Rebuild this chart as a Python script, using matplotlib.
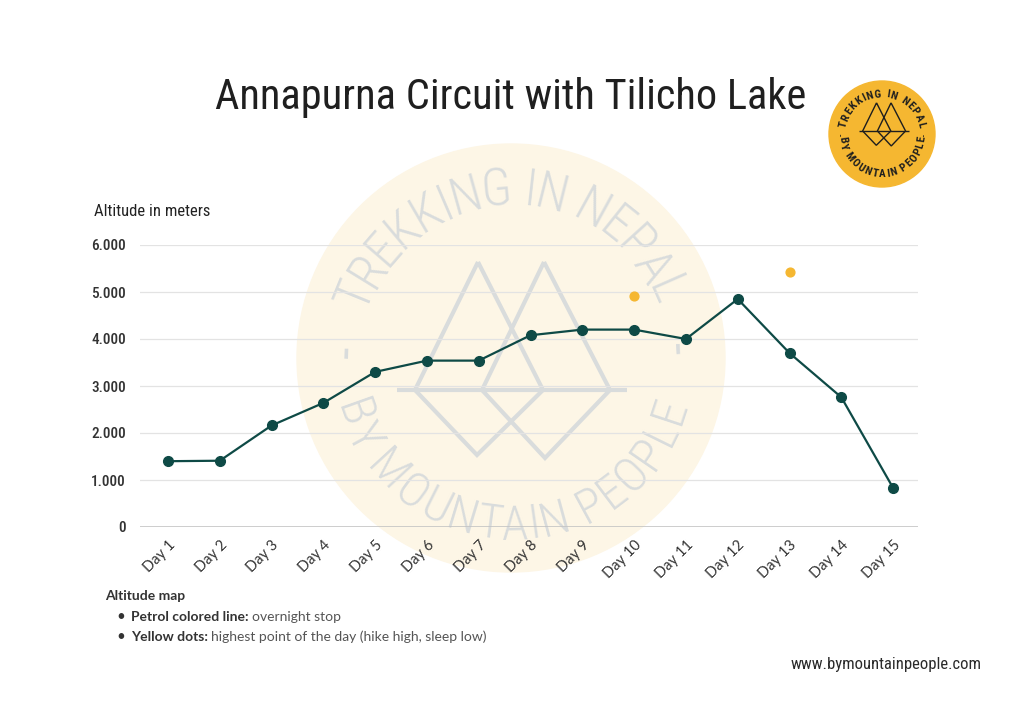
import numpy as np
import matplotlib
matplotlib.use('Agg')
import matplotlib.pyplot as plt
from matplotlib import font_manager
from matplotlib.font_manager import FontProperties
from matplotlib.textpath import text_to_path
from matplotlib.patches import Circle

days = ['Day 1', 'Day 2', 'Day 3', 'Day 4', 'Day 5', 'Day 6', 'Day 7', 'Day 8',
        'Day 9', 'Day 10', 'Day 11', 'Day 12', 'Day 13', 'Day 14', 'Day 15']
overnight = [1400, 1410, 2160, 2640, 3300, 3540, 3540, 4080, 4200, 4200, 4000, 4850, 3700, 2760, 830]
# highest point of the day (only where above the overnight stop)
high_days = [9, 12]
high_alt = [4920, 5420]
yticks = [0, 1000, 2000, 3000, 4000, 5000, 6000]

PETROL = '#0e4a46'
YELLOW = '#f5b731'

names = {f.name for f in font_manager.fontManager.ttflist}
def pick(*cands):
    for c in cands:
        if c in names:
            return c
    return 'DejaVu Sans'

COND = pick('Liberation Sans Narrow', 'Roboto Condensed', 'DejaVu Sans Condensed', 'Roboto')
BODY = pick('Lato', 'Open Sans', 'DejaVu Sans')

W, H = 1024, 719
fig = plt.figure(figsize=(W / 100, H / 100), dpi=100)
fig.patch.set_facecolor('white')

# background layer in pixel coords (y up)
bg = fig.add_axes([0, 0, 1, 1], zorder=0)
bg.set_xlim(0, W)
bg.set_ylim(0, H)
bg.axis('off')


def arc_text(ax, text, cx, cy, r, amid, size, top=True, weight='normal', track=0.0, **kw):
    # place characters along a circle, spaced by their real advance widths
    prop = FontProperties(family=COND, size=size, weight=weight)
    px = 100 / 72
    def wid(s):
        return text_to_path.get_text_width_height_descent(s, prop, ismath=False)[0] * px + track * len(s)
    total = wid(text) - track
    for i, ch in enumerate(text):
        if ch == ' ':
            continue
        c = wid(text[:i]) + (wid(ch) - track) / 2
        off = np.degrees((c - total / 2) / r)
        a = amid - off if top else amid + off
        x = cx + r * np.cos(np.radians(a))
        y = cy + r * np.sin(np.radians(a))
        rot = a - 90 if top else a + 90
        ax.text(x, y, ch, rotation=rot, ha='center', va='center', rotation_mode='anchor',
                fontsize=size, family=COND, weight=weight, **kw)


def icon(ax, cx, cy, s, color, lw):
    # two mountain peaks reflected below a horizon line
    segs = [
        [(-34, 128), (-97, 0), (-35, -65), (31, 0), (-34, 128)],
        [(32, 128), (-30, 0), (33, -68), (98, 0), (32, 128)],
        [(-115, 0), (115, 0)],
    ]
    for seg in segs:
        xs = [cx + s * p[0] for p in seg]
        ys = [cy + s * p[1] for p in seg]
        ax.plot(xs, ys, color=color, lw=lw, solid_capstyle='butt', solid_joinstyle='miter')


# watermark
wx, wy = 511, H - 358
bg.add_patch(Circle((wx, wy), 214, color='#fdf6e6', zorder=0))
WM = '#d9dcdc'
arc_text(bg, 'TREKKING IN NEPAL', wx, wy, 167, 91, 37, top=True,
         weight='light', color=WM, zorder=1)
arc_text(bg, 'BY MOUNTAIN PEOPLE', wx, wy, 168, 270.5, 35, top=False,
         weight='light', color=WM, zorder=1)
for a in (178, 3):
    bg.text(wx + 164 * np.cos(np.radians(a)), wy + 164 * np.sin(np.radians(a)), '-',
            rotation=a - 90, ha='center', va='center', fontsize=36, color=WM, family=COND,
            rotation_mode='anchor', zorder=1)
icon(bg, 512, H - 390, 1.0, WM, 3.0)

# logo badge
lx, ly = 882, H - 134
bg.add_patch(Circle((lx, ly), 53, color=YELLOW, zorder=2))
arc_text(bg, 'TREKKING IN NEPAL', lx, ly, 40, 90, 8, top=True,
         weight='bold', track=1.3, color='#1e1e1e', zorder=3)
arc_text(bg, 'BY MOUNTAIN PEOPLE', lx, ly, 40, 270, 8, top=False,
         weight='bold', track=1.0, color='#1e1e1e', zorder=3)
for a in (181, 359):
    bg.text(lx + 40 * np.cos(np.radians(a)), ly + 40 * np.sin(np.radians(a)), '-',
            rotation=a - 90, ha='center', va='center', fontsize=7, color='#1e1e1e',
            family=COND, rotation_mode='anchor', zorder=3)
icon(bg, 884, H - 131, 0.22, '#1e1e1e', 1.0)

# texts
bg.text(511, H - 109, 'Annapurna Circuit with Tilicho Lake', ha='center', va='baseline',
        fontsize=30.5, color='#1f1f1f', family=COND, zorder=3)
bg.text(94, H - 211, 'Altitude in meters', ha='left', va='center',
        fontsize=12, color='#222222', family=COND, zorder=3)
bg.text(105, H - 596, 'Altitude map', ha='left', va='center', fontsize=10,
        weight='bold', color='#333333', family=BODY, zorder=3)
bg.text(116, H - 617, '\u2022', ha='left', va='center', fontsize=11, color='#333333', family=BODY)
bg.text(116, H - 637, '\u2022', ha='left', va='center', fontsize=11, color='#333333', family=BODY)
t1 = bg.text(131, H - 617, 'Petrol colored line: ', ha='left', va='center', fontsize=10,
             weight='bold', color='#333333', family=BODY)
t2 = bg.text(131, H - 637, 'Yellow dots: ', ha='left', va='center', fontsize=10,
             weight='bold', color='#333333', family=BODY)
fig.canvas.draw()
r = fig.canvas.get_renderer()
for t, rest in [(t1, 'overnight stop'), (t2, 'highest point of the day (hike high, sleep low)')]:
    bb = t.get_window_extent(renderer=r)
    bg.text(bb.x1, t.get_position()[1], rest, ha='left', va='center', fontsize=10,
            color='#555555', family=BODY)
bg.text(982, H - 665, 'www.bymountainpeople.com', ha='right', va='center',
        fontsize=12, color='#2a2a2a', family=COND)

# main chart
ax = fig.add_axes([140 / W, (H - 527) / H, 778 / W, 282 / H], zorder=1)
ax.set_facecolor('none')
x = np.arange(len(days))
ax.plot(x, overnight, color=PETROL, lw=1.6, marker='o', markersize=7, zorder=3, clip_on=False)
ax.scatter(high_days, high_alt, s=40, color=YELLOW, zorder=3, clip_on=False)
ax.set_xlim(-0.54, 14.48)
ax.set_ylim(0, 6000)
ax.set_yticks(yticks)
ax.set_yticklabels([f'{v:,}'.replace(',', '.') for v in yticks], family=COND,
                   fontsize=11, color='#333333', weight='medium')
ax.set_xticks(x)
ax.set_xticklabels(days, rotation=45, ha='right', rotation_mode='anchor',
                   family=BODY, fontsize=10.5, color='#333333')
ax.tick_params(length=0, axis='y', pad=10)
ax.tick_params(length=0, axis='x', pad=8)
for s in ax.spines.values():
    s.set_visible(False)
ax.grid(axis='y', color='#e3e3e3', lw=0.9)
ax.axhline(0, color='#bdbdbd', lw=1.1, zorder=1)

fig.savefig('out.png', dpi=100)
